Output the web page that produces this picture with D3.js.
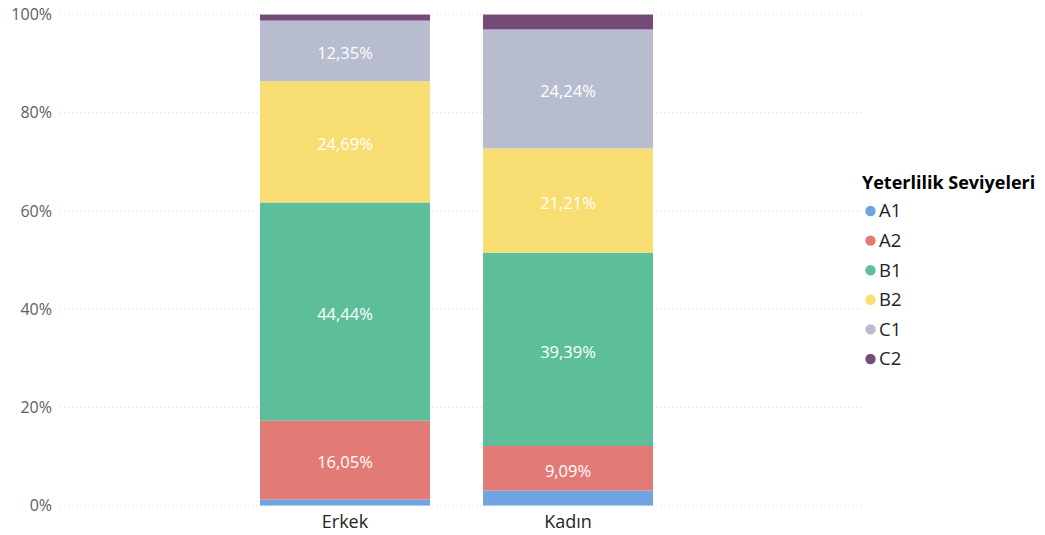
<!DOCTYPE html>
<html>
<head>
<meta charset="utf-8">
<script src="https://cdn.jsdelivr.net/npm/d3@7"></script>
<style>
  html, body { margin: 0; padding: 0; background: #fff; }
  svg { display: block; font-family: "Segoe UI", "Open Sans", "Noto Sans", sans-serif; }
</style>
</head>
<body>
<svg id="chart" width="1045" height="535"></svg>
<script>
// Categories and proficiency levels
const categories = ["Erkek", "Kadın"];
const levels = ["A1", "A2", "B1", "B2", "C1", "C2"];
// Share of each level per category (percent)
const erkekValues = [1.23, 16.05, 44.44, 24.69, 12.35, 1.23];
const kadinValues = [3.03, 9.09, 39.39, 21.21, 24.24, 3.03];
const yTicks = [0, 20, 40, 60, 80, 100];
const levelColors = ["#6FA3E2", "#E27A76", "#5CBF9A", "#F8DE72", "#B7BDCF", "#744B77"];
const legendTitle = "Yeterlilik Seviyeleri";
// Only segments at least this tall get a value label
const labelMin = 5;

const seriesByCategory = [erkekValues, kadinValues];
const rows = categories.map((c, i) => {
  const r = { category: c };
  levels.forEach((l, j) => r[l] = seriesByCategory[i][j]);
  return r;
});

const svg = d3.select("#chart");

const y = d3.scaleLinear().domain([0, 100]).range([505.5, 14.5]);
const x = d3.scaleBand().domain(categories).range([148.5, 764.5]).paddingInner(0.238).paddingOuter(0.5);
const color = d3.scaleOrdinal().domain(levels).range(levelColors);

// Dotted gridlines
svg.append("g").selectAll("line").data(yTicks).join("line")
  .attr("x1", 60).attr("x2", 862)
  .attr("y1", d => y(d)).attr("y2", d => y(d))
  .attr("stroke", "#d9d9d9").attr("stroke-width", 1)
  .attr("stroke-dasharray", "1,3");

// Y axis labels
const yAxis = d3.axisLeft(y).tickValues(yTicks).tickFormat(d => d + "%").tickSize(0).tickPadding(0);
const yg = svg.append("g").attr("transform", "translate(52,0)").call(yAxis);
yg.select(".domain").remove();
yg.selectAll("text").attr("fill", "#605E5C").style("font-size", "16px")
  .style("font-family", "'Segoe UI', 'Open Sans', sans-serif");

// Stacked bars
const stack = d3.stack().keys(levels);
const stacked = stack(rows);

const groups = svg.append("g").selectAll("g").data(stacked).join("g")
  .attr("fill", d => color(d.key));

groups.selectAll("rect").data(d => d.map(p => ({ p, key: d.key }))).join("rect")
  .attr("x", d => x(d.p.data.category))
  .attr("width", x.bandwidth())
  .attr("y", d => y(d.p[1]))
  .attr("height", d => y(d.p[0]) - y(d.p[1]));

// Segment value labels
const labels = svg.append("g");
stacked.forEach(layer => {
  layer.forEach(p => {
    const v = p[1] - p[0];
    if (v < labelMin) return;
    labels.append("text")
      .attr("x", x(p.data.category) + x.bandwidth() / 2)
      .attr("y", (y(p[0]) + y(p[1])) / 2)
      .attr("dy", "0.5em")
      .attr("text-anchor", "middle")
      .attr("fill", "#ffffff")
      .style("font-size", "16.5px")
      .text(v.toFixed(2).replace(".", ",") + "%");
  });
});

// X axis labels
const xAxis = d3.axisBottom(x).tickSize(0).tickPadding(0);
const xg = svg.append("g").attr("transform", "translate(0,515)").call(xAxis);
xg.select(".domain").remove();
xg.selectAll("text").attr("fill", "#252423").style("font-size", "18px")
  .style("font-family", "'Segoe UI', 'Open Sans', sans-serif");

// Legend
const legend = svg.append("g").attr("transform", "translate(862,0)");
legend.append("text")
  .attr("x", 0).attr("y", 189)
  .attr("fill", "#000")
  .style("font-size", "18px").style("font-weight", "bold")
  .text(legendTitle);
const items = legend.selectAll("g.item").data(levels).join("g")
  .attr("class", "item")
  .attr("transform", (d, i) => `translate(0,${211 + i * 29.6})`);
items.append("circle").attr("cx", 8.5).attr("cy", 0).attr("r", 5.2).attr("fill", d => color(d));
items.append("text").attr("x", 17).attr("y", 0).attr("dy", "0.35em")
  .attr("fill", "#252423").style("font-size", "18.5px").text(d => d);
</script>
</body>
</html>
